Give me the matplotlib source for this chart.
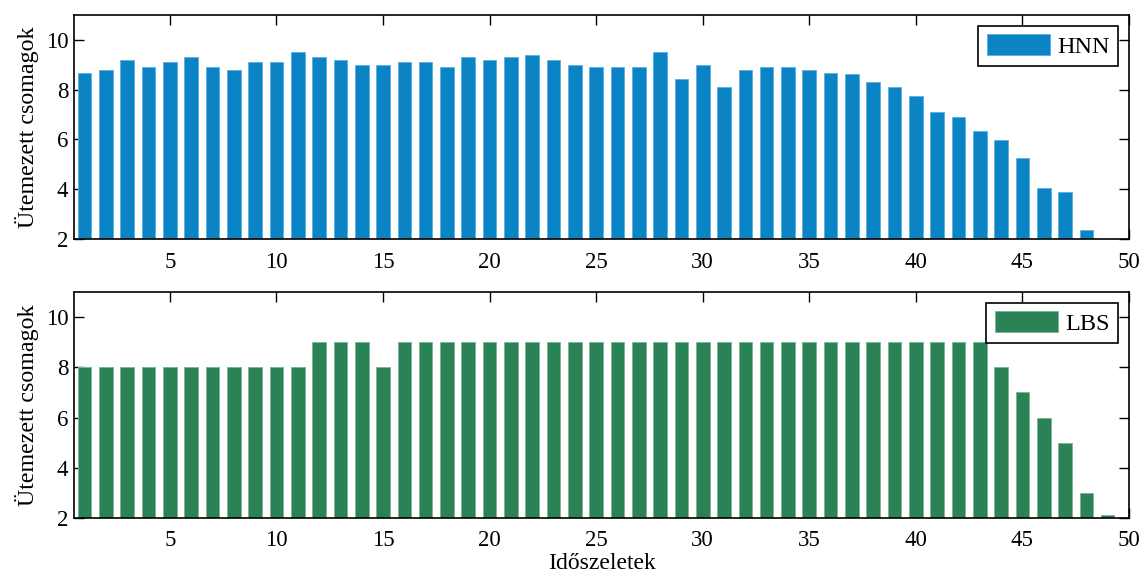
import matplotlib
matplotlib.use("Agg")
import matplotlib.pyplot as plt
import numpy as np

plt.rcParams["font.family"] = ["Liberation Serif", "DejaVu Serif"]

# ── Data ────────────────────────────────────────────────────────────────────
hnn_slots = np.arange(1, 49)
hnn_values = [8.69, 8.81, 9.20, 8.93, 9.13, 9.32, 8.93, 8.81, 9.13, 9.13,
              9.51, 9.32, 9.20, 9.01, 9.01, 9.13, 9.13, 8.93, 9.32, 9.20,
              9.32, 9.39, 9.20, 9.01, 8.93, 8.93, 8.93, 9.51, 8.44, 9.01,
              8.12, 8.81, 8.93, 8.93, 8.81, 8.69, 8.63, 8.31, 8.12, 7.73,
              7.09, 6.92, 6.33, 5.96, 5.25, 4.05, 3.87, 2.35]

lbs_slots = np.arange(1, 50)
lbs_values = [8, 8, 8, 8, 8, 8, 8, 8, 8, 8,
              8, 9, 9, 9, 8, 9, 9, 9, 9, 9,
              9, 9, 9, 9, 9, 9, 9, 9, 9, 9,
              9, 9, 9, 9, 9, 9, 9, 9, 9, 9,
              9, 9, 9, 8, 7, 6, 5, 3, 2.1]

x_ticks = [5, 10, 15, 20, 25, 30, 35, 40, 45, 50]
y_ticks = [2, 4, 6, 8, 10]

panels = [
    (hnn_slots, hnn_values, "HNN", "#0B84C6", "#5FB3E0"),
    (lbs_slots, lbs_values, "LBS", "#2A8256", "#7DB895"),
]

# ── Plot ────────────────────────────────────────────────────────────────────
fig = plt.figure(figsize=(11.42, 5.74), dpi=100)
positions = [[0.0648, 0.5836, 0.9238, 0.3902],
             [0.0648, 0.0976, 0.9238, 0.3937]]

for pos, (slots, vals, name, color, edge) in zip(positions, panels):
    ax = fig.add_axes(pos)
    ax.bar(slots, vals, width=0.64, color=color, edgecolor=edge,
           linewidth=0.7, label=name)
    ax.set_xlim(0.5, 50)
    ax.set_ylim(2, 11)
    ax.set_xticks(x_ticks)
    ax.set_yticks(y_ticks)
    ax.set_axisbelow(True)
    ax.tick_params(direction="in", length=7, width=1, labelsize=16.5,
                   top=True, right=True)
    ax.tick_params(axis="x", pad=9)
    ax.tick_params(axis="y", pad=4)
    for sp in ax.spines.values():
        sp.set_linewidth(1.2)
        sp.set_zorder(3)
    ax.set_ylabel("Ütemezett csomagok", fontsize=17.3, labelpad=5)
    ax.legend(loc="upper right", fontsize=17.5, frameon=True, fancybox=False,
              edgecolor="black", framealpha=1, handlelength=2.6,
              handleheight=0.9, borderpad=0.35, handletextpad=0.3,
              borderaxespad=0.45).get_frame().set_linewidth(1.2)

fig.text(0.527, 0.019, "Időszeletek", fontsize=17, ha="center", va="center")

fig.savefig("out.png", dpi=100, facecolor="white")
plt.close(fig)
